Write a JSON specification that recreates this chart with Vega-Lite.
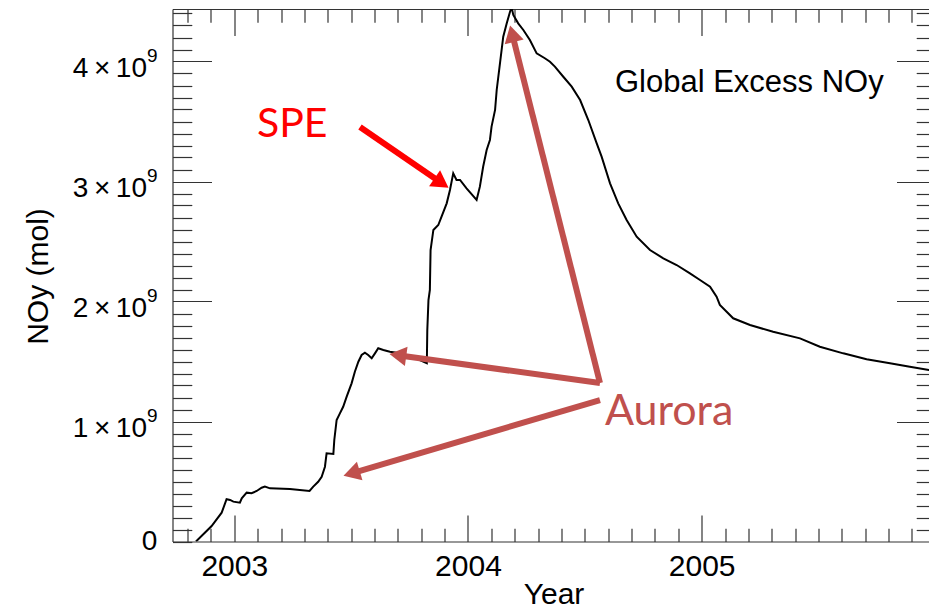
{
  "$schema": "https://vega.github.io/schema/vega-lite/v6.json",
  "width": 756.5,
  "height": 532.5,
  "autosize": {"type": "none"},
  "padding": {"left": 172.5, "top": 9, "right": 0, "bottom": 69.5},
  "background": "white",
  "config": {
    "view": {"stroke": null},
    "font": "Liberation Sans",
    "axis": {
      "grid": false,
      "domainColor": "#333",
      "tickColor": "#333",
      "domainWidth": 1.2,
      "tickWidth": 1.2,
      "labelColor": "black",
      "titleColor": "black",
      "labelFont": "Liberation Sans",
      "titleFont": "Liberation Sans",
      "labelFontWeight": "normal",
      "titleFontWeight": "normal"
    }
  },
  "datasets": {
    "curve": [
      {"year": 2002.836, "noy": 0},
      {"year": 2002.903, "noy": 0.129e9},
      {"year": 2002.946, "noy": 0.24e9},
      {"year": 2002.967, "noy": 0.352e9},
      {"year": 2002.982, "noy": 0.346e9},
      {"year": 2002.996, "noy": 0.332e9},
      {"year": 2003.024, "noy": 0.323e9},
      {"year": 2003.032, "noy": 0.36e9},
      {"year": 2003.053, "noy": 0.407e9},
      {"year": 2003.074, "noy": 0.402e9},
      {"year": 2003.096, "noy": 0.421e9},
      {"year": 2003.117, "noy": 0.448e9},
      {"year": 2003.131, "noy": 0.457e9},
      {"year": 2003.153, "noy": 0.443e9},
      {"year": 2003.238, "noy": 0.4375e9},
      {"year": 2003.322, "noy": 0.421e9},
      {"year": 2003.338, "noy": 0.457e9},
      {"year": 2003.359, "noy": 0.498e9},
      {"year": 2003.374, "noy": 0.54e9},
      {"year": 2003.388, "noy": 0.623e9},
      {"year": 2003.395, "noy": 0.735e9},
      {"year": 2003.424, "noy": 0.729e9},
      {"year": 2003.428, "noy": 0.846e9},
      {"year": 2003.438, "noy": 1.0125e9},
      {"year": 2003.452, "noy": 1.068e9},
      {"year": 2003.466, "noy": 1.123e9},
      {"year": 2003.481, "noy": 1.207e9},
      {"year": 2003.502, "noy": 1.318e9},
      {"year": 2003.516, "noy": 1.415e9},
      {"year": 2003.531, "noy": 1.498e9},
      {"year": 2003.545, "noy": 1.554e9},
      {"year": 2003.559, "noy": 1.573e9},
      {"year": 2003.573, "noy": 1.554e9},
      {"year": 2003.588, "noy": 1.527e9},
      {"year": 2003.602, "noy": 1.568e9},
      {"year": 2003.616, "noy": 1.61e9},
      {"year": 2003.638, "noy": 1.596e9},
      {"year": 2003.666, "noy": 1.582e9},
      {"year": 2003.695, "noy": 1.573e9},
      {"year": 2003.752, "noy": 1.546e9},
      {"year": 2003.794, "noy": 1.5125e9},
      {"year": 2003.824, "noy": 1.485e9},
      {"year": 2003.826, "noy": 1.7625e9},
      {"year": 2003.831, "noy": 2.0125e9},
      {"year": 2003.837, "noy": 2.096e9},
      {"year": 2003.84, "noy": 2.429e9},
      {"year": 2003.852, "noy": 2.596e9},
      {"year": 2003.873, "noy": 2.6375e9},
      {"year": 2003.887, "noy": 2.707e9},
      {"year": 2003.909, "noy": 2.818e9},
      {"year": 2003.923, "noy": 2.929e9},
      {"year": 2003.937, "noy": 3.068e9},
      {"year": 2003.951, "noy": 3.0125e9},
      {"year": 2003.966, "noy": 3.0125e9},
      {"year": 2003.994, "noy": 2.943e9},
      {"year": 2004.037, "noy": 2.846e9},
      {"year": 2004.051, "noy": 2.957e9},
      {"year": 2004.065, "noy": 3.123e9},
      {"year": 2004.08, "noy": 3.2625e9},
      {"year": 2004.094, "noy": 3.346e9},
      {"year": 2004.101, "noy": 3.457e9},
      {"year": 2004.116, "noy": 3.596e9},
      {"year": 2004.123, "noy": 3.7625e9},
      {"year": 2004.137, "noy": 3.985e9},
      {"year": 2004.151, "noy": 4.207e9},
      {"year": 2004.166, "noy": 4.318e9},
      {"year": 2004.18, "noy": 4.415e9},
      {"year": 2004.187, "noy": 4.45e9},
      {"year": 2004.194, "noy": 4.3875e9},
      {"year": 2004.215, "noy": 4.318e9},
      {"year": 2004.237, "noy": 4.2625e9},
      {"year": 2004.265, "noy": 4.179e9},
      {"year": 2004.294, "noy": 4.068e9},
      {"year": 2004.329, "noy": 4.027e9},
      {"year": 2004.351, "noy": 3.998e9},
      {"year": 2004.372, "noy": 3.957e9},
      {"year": 2004.408, "noy": 3.873e9},
      {"year": 2004.444, "noy": 3.79e9},
      {"year": 2004.48, "noy": 3.679e9},
      {"year": 2004.515, "noy": 3.5125e9},
      {"year": 2004.551, "noy": 3.318e9},
      {"year": 2004.572, "noy": 3.207e9},
      {"year": 2004.608, "noy": 2.985e9},
      {"year": 2004.643, "noy": 2.818e9},
      {"year": 2004.679, "noy": 2.679e9},
      {"year": 2004.722, "noy": 2.54e9},
      {"year": 2004.779, "noy": 2.429e9},
      {"year": 2004.836, "noy": 2.36e9},
      {"year": 2004.893, "noy": 2.304e9},
      {"year": 2004.95, "noy": 2.235e9},
      {"year": 2004.993, "noy": 2.179e9},
      {"year": 2005.036, "noy": 2.123e9},
      {"year": 2005.064, "noy": 2.04e9},
      {"year": 2005.078, "noy": 1.971e9},
      {"year": 2005.135, "noy": 1.86e9},
      {"year": 2005.207, "noy": 1.804e9},
      {"year": 2005.306, "noy": 1.748e9},
      {"year": 2005.421, "noy": 1.693e9},
      {"year": 2005.506, "noy": 1.623e9},
      {"year": 2005.606, "noy": 1.568e9},
      {"year": 2005.706, "noy": 1.518e9},
      {"year": 2005.806, "noy": 1.485e9},
      {"year": 2005.891, "noy": 1.457e9},
      {"year": 2005.973, "noy": 1.429e9},
      {"year": 2006.0, "noy": 1.42e9}
    ],
    "arrows": [
      {"event": "SPE", "x": 2003.538, "y": 3.454e9, "x2": 2003.887, "y2": 2.988e9},
      {"event": "Aurora", "x": 2004.565, "y": 1.321e9, "x2": 2004.189, "y2": 4.232e9},
      {"event": "Aurora", "x": 2004.565, "y": 1.321e9, "x2": 2003.7, "y2": 1.5525e9},
      {"event": "Aurora", "x": 2004.565, "y": 1.179e9, "x2": 2003.502, "y2": 0.5675e9}
    ],
    "labels": [
      {"text": "SPE", "x": 2003.097, "y": 3.373e9},
      {"text": "Aurora", "x": 2004.586, "y": 0.9675e9}
    ]
  },
  "data": {"name": "curve"},
  "resolve": {"axis": {"x": "independent", "y": "independent"}},
  "layer": [
    {
      "mark": {"type": "line", "color": "black", "strokeWidth": 2, "clip": true, "interpolate": "linear"},
      "encoding": {
        "x": {"field": "year", "type": "quantitative",
          "scale": {"domain": [2002.7356, 2005.973], "nice": false, "zero": false},
          "axis": {"orient": "bottom", "values": [2003, 2004, 2005], "format": "d", "tickSize": -26.5, "labelPadding": 36, "labelFontSize": 30, "title": "Year", "titleFontSize": 30, "titleX": 381, "titleY": 62, "titleBaseline": "alphabetic", "titleAnchor": "middle", "labelFlush": false}},
        "y": {"field": "noy", "type": "quantitative",
          "scale": {"domain": [0, 4.4375e9], "nice": false, "zero": false},
          "axis": {"orient": "left", "values": [1e9, 2e9, 3e9, 4e9], "labelExpr": "format(datum.value/1e9,'d') + '\u2009×\u200910'", "tickSize": -39, "labelPadding": 65, "labelOffset": 7, "labelFontSize": 28, "title": "NOy (mol)", "titleFontSize": 30, "titleX": -125, "titleY": 267, "titleAngle": -90, "titleBaseline": "alphabetic", "titleAnchor": "middle", "labelFlush": false}}
      }
    },
    {
      "mark": {"type": "point", "opacity": 0},
      "encoding": {
        "x": {"field": "year", "type": "quantitative",
          "scale": {"domain": [2002.7356, 2005.973], "nice": false, "zero": false},
          "axis": {"orient": "bottom", "values": [2002.8, 2002.9, 2003.1, 2003.2, 2003.3, 2003.4, 2003.5, 2003.6, 2003.7, 2003.8, 2003.9, 2004.1, 2004.2, 2004.3, 2004.4, 2004.5, 2004.6, 2004.7, 2004.8, 2004.9, 2005.1, 2005.2, 2005.3, 2005.4, 2005.5, 2005.6, 2005.7, 2005.8, 2005.9], "tickSize": -13.3, "labels": false, "domain": false, "title": null}},
        "y": {"field": "noy", "type": "quantitative",
          "scale": {"domain": [0, 4.4375e9], "nice": false, "zero": false},
          "axis": {"orient": "left", "values": [0, 1e8, 2e8, 3e8, 4e8, 5e8, 6e8, 7e8, 8e8, 9e8, 1.1e9, 1.2e9, 1.3e9, 1.4e9, 1.5e9, 1.6e9, 1.7e9, 1.8e9, 1.9e9, 2.1e9, 2.2e9, 2.3e9, 2.4e9, 2.5e9, 2.6e9, 2.7e9, 2.8e9, 2.9e9, 3.1e9, 3.2e9, 3.3e9, 3.4e9, 3.5e9, 3.6e9, 3.7e9, 3.8e9, 3.9e9, 4.1e9, 4.2e9, 4.3e9, 4.4e9], "labelExpr": "datum.value == 0 ? '0' : ''", "tickSize": -19.3, "labelPadding": 35, "labelFontSize": 28, "domain": false, "title": null, "labelFlush": false}}
      }
    },
    {
      "mark": {"type": "point", "opacity": 0},
      "encoding": {
        "x": {"field": "year", "type": "quantitative",
          "scale": {"domain": [2002.7356, 2005.973], "nice": false, "zero": false},
          "axis": {"orient": "top", "values": [2003, 2004, 2005], "tickSize": -26.5, "labels": false, "title": null}},
        "y": {"field": "noy", "type": "quantitative",
          "scale": {"domain": [0, 4.4375e9], "nice": false, "zero": false},
          "axis": {"orient": "right", "offset": 6.5, "values": [1e9, 2e9, 3e9, 4e9], "tickSize": -39, "labels": false, "title": null}}
      }
    },
    {
      "mark": {"type": "point", "opacity": 0},
      "encoding": {
        "x": {"field": "year", "type": "quantitative",
          "scale": {"domain": [2002.7356, 2005.973], "nice": false, "zero": false},
          "axis": {"orient": "top", "values": [2002.8, 2002.9, 2003.1, 2003.2, 2003.3, 2003.4, 2003.5, 2003.6, 2003.7, 2003.8, 2003.9, 2004.1, 2004.2, 2004.3, 2004.4, 2004.5, 2004.6, 2004.7, 2004.8, 2004.9, 2005.1, 2005.2, 2005.3, 2005.4, 2005.5, 2005.6, 2005.7, 2005.8, 2005.9], "tickSize": -13.3, "labels": false, "domain": false, "title": null}},
        "y": {"field": "noy", "type": "quantitative",
          "scale": {"domain": [0, 4.4375e9], "nice": false, "zero": false},
          "axis": {"orient": "right", "offset": 6.5, "values": [1e8, 2e8, 3e8, 4e8, 5e8, 6e8, 7e8, 8e8, 9e8, 1.1e9, 1.2e9, 1.3e9, 1.4e9, 1.5e9, 1.6e9, 1.7e9, 1.8e9, 1.9e9, 2.1e9, 2.2e9, 2.3e9, 2.4e9, 2.5e9, 2.6e9, 2.7e9, 2.8e9, 2.9e9, 3.1e9, 3.2e9, 3.3e9, 3.4e9, 3.5e9, 3.6e9, 3.7e9, 3.8e9, 3.9e9, 4.1e9, 4.2e9, 4.3e9, 4.4e9], "tickSize": -19.3, "labels": false, "domain": false, "title": null}}
      }
    },
    {
      "mark": {"type": "point", "opacity": 0},
      "encoding": {
        "x": {"field": "year", "type": "quantitative",
          "scale": {"domain": [2002.7356, 2005.973], "nice": false, "zero": false},
          "axis": null},
        "y": {"field": "noy", "type": "quantitative",
          "scale": {"domain": [0, 4.4375e9], "nice": false, "zero": false},
          "axis": {"orient": "left", "values": [1e9, 2e9, 3e9, 4e9], "labelExpr": "'9'", "ticks": false, "domain": false, "labelPadding": 15.5, "labelOffset": -6, "labelFontSize": 19, "title": null, "labelFlush": false}}
      }
    },
    {
      "data": {"name": "arrows"},
      "mark": {"type": "rule", "strokeWidth": 6, "strokeCap": "butt"},
      "encoding": {
        "x": {"field": "x", "type": "quantitative", "axis": null},
        "y": {"field": "y", "type": "quantitative", "axis": null},
        "x2": {"field": "x2"},
        "y2": {"field": "y2"},
        "color": {"field": "event", "type": "nominal", "scale": {"domain": ["SPE", "Aurora"], "range": ["#ff0000", "#c0504d"]}, "legend": null}
      }
    },
    {
      "data": {"name": "arrows"},
      "transform": [{"filter": "datum.event == 'SPE'"}],
      "mark": {"type": "point", "shape": "triangle-up", "filled": true, "opacity": 1, "size": 380, "angle": 124.4, "color": "#ff0000"},
      "encoding": {
        "x": {"field": "x2", "type": "quantitative", "axis": null},
        "y": {"field": "y2", "type": "quantitative", "axis": null}
      }
    },
    {
      "data": {"name": "arrows"},
      "transform": [{"filter": "datum.event == 'Aurora' && datum.y2 > 4e9"}],
      "mark": {"type": "point", "shape": "triangle-up", "filled": true, "opacity": 1, "size": 380, "angle": 345.9, "color": "#c0504d"},
      "encoding": {
        "x": {"field": "x2", "type": "quantitative", "axis": null},
        "y": {"field": "y2", "type": "quantitative", "axis": null}
      }
    },
    {
      "data": {"name": "arrows"},
      "transform": [{"filter": "datum.event == 'Aurora' && datum.y2 > 1e9 && datum.y2 < 4e9"}],
      "mark": {"type": "point", "shape": "triangle-up", "filled": true, "opacity": 1, "size": 380, "angle": 277.8, "color": "#c0504d"},
      "encoding": {
        "x": {"field": "x2", "type": "quantitative", "axis": null},
        "y": {"field": "y2", "type": "quantitative", "axis": null}
      }
    },
    {
      "data": {"name": "arrows"},
      "transform": [{"filter": "datum.event == 'Aurora' && datum.y2 < 1e9"}],
      "mark": {"type": "point", "shape": "triangle-up", "filled": true, "opacity": 1, "size": 380, "angle": 253.5, "color": "#c0504d"},
      "encoding": {
        "x": {"field": "x2", "type": "quantitative", "axis": null},
        "y": {"field": "y2", "type": "quantitative", "axis": null}
      }
    },
    {
      "data": {"name": "labels"},
      "transform": [{"filter": "datum.text == 'SPE'"}],
      "mark": {"type": "text", "font": "Lato", "fontSize": 41, "align": "left", "baseline": "alphabetic", "color": "#ff0000"},
      "encoding": {
        "x": {"field": "x", "type": "quantitative", "axis": null},
        "y": {"field": "y", "type": "quantitative", "axis": null},
        "text": {"field": "text"}
      }
    },
    {
      "data": {"name": "labels"},
      "transform": [{"filter": "datum.text == 'Aurora'"}],
      "mark": {"type": "text", "font": "Lato", "fontSize": 43, "align": "left", "baseline": "alphabetic", "color": "#c0504d"},
      "encoding": {
        "x": {"field": "x", "type": "quantitative", "axis": null},
        "y": {"field": "y", "type": "quantitative", "axis": null},
        "text": {"field": "text"}
      }
    },
    {
      "data": {"values": [{"text": "Global Excess NOy", "x": 2004.629, "y": 3.748e9}]},
      "mark": {"type": "text", "font": "Liberation Sans", "fontSize": 31, "align": "left", "baseline": "alphabetic", "color": "black"},
      "encoding": {
        "x": {"field": "x", "type": "quantitative", "axis": null},
        "y": {"field": "y", "type": "quantitative", "axis": null},
        "text": {"field": "text"}
      }
    }
  ]
}
